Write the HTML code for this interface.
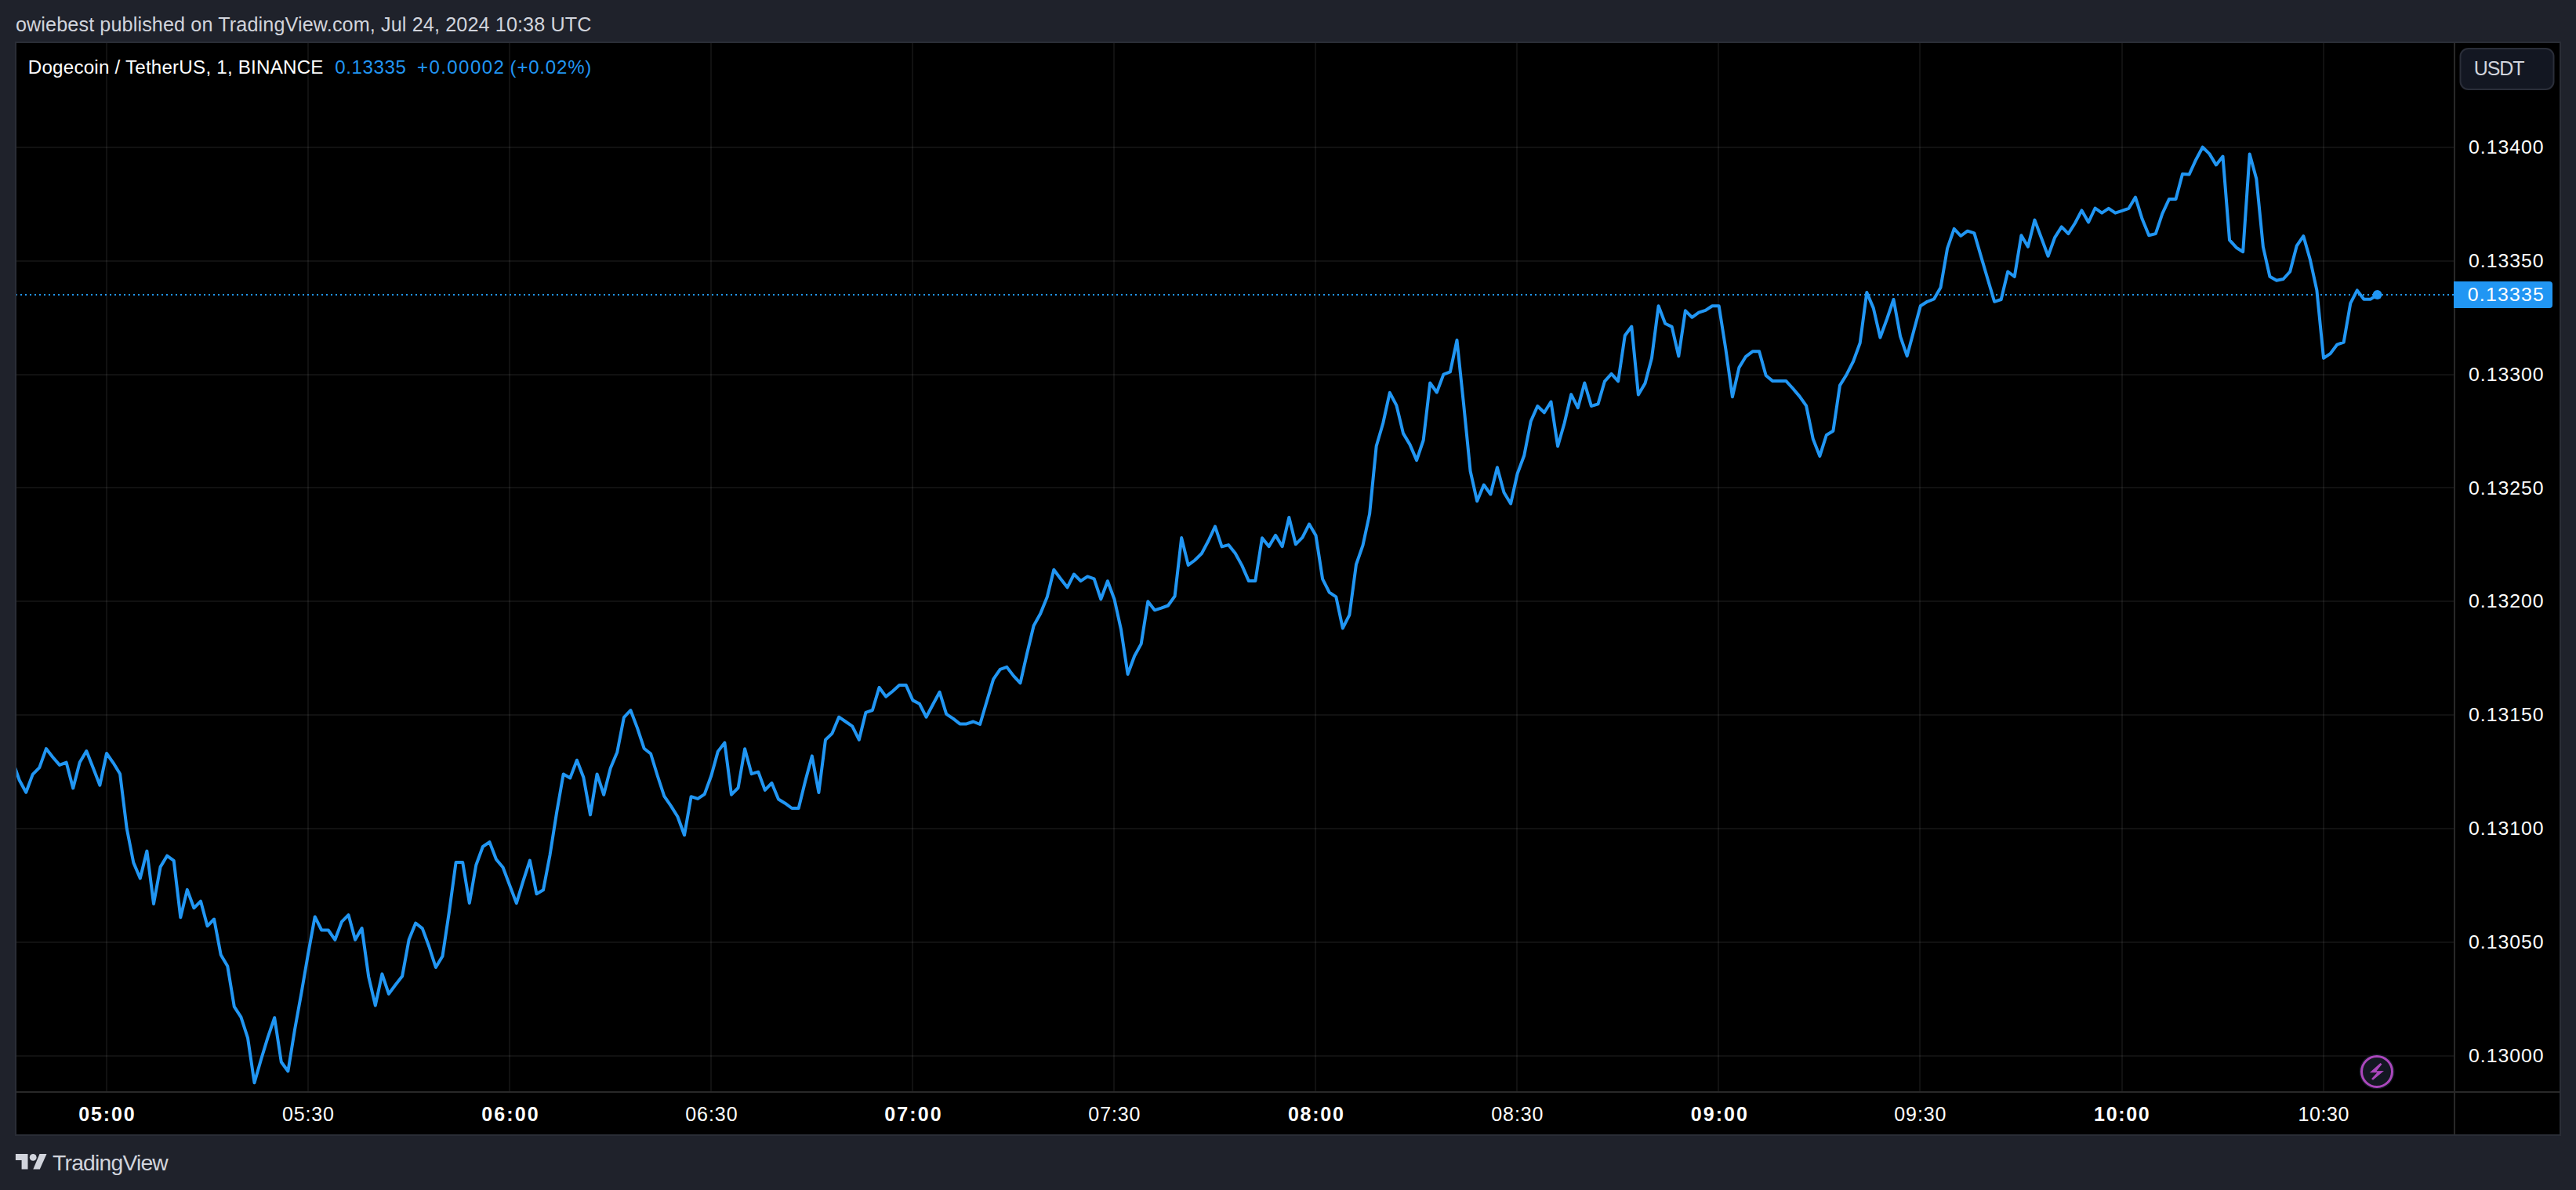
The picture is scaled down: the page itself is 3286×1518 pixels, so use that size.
<!DOCTYPE html>
<html><head><meta charset="utf-8"><title>DOGEUSDT chart</title>
<style>
html,body{margin:0;padding:0;background:#1f222b;width:3286px;height:1518px;overflow:hidden;}
svg text{font-family:"Liberation Sans", "DejaVu Sans", sans-serif;}
</style></head><body>
<svg width="3286" height="1518" viewBox="0 0 3286 1518" style="position:absolute;left:0;top:0"><rect x="19" y="53" width="3248" height="1396" fill="#2a2d36"/><rect x="21" y="55" width="3244" height="1392" fill="#000"/><defs><clipPath id="pane"><rect x="21" y="55" width="3110" height="1338"/></clipPath></defs><g clip-path="url(#pane)"><rect x="135" y="55" width="2" height="1338" fill="#fff" fill-opacity="0.065"/><rect x="392" y="55" width="2" height="1338" fill="#fff" fill-opacity="0.065"/><rect x="649" y="55" width="2" height="1338" fill="#fff" fill-opacity="0.065"/><rect x="906" y="55" width="2" height="1338" fill="#fff" fill-opacity="0.065"/><rect x="1163" y="55" width="2" height="1338" fill="#fff" fill-opacity="0.065"/><rect x="1420" y="55" width="2" height="1338" fill="#fff" fill-opacity="0.065"/><rect x="1677" y="55" width="2" height="1338" fill="#fff" fill-opacity="0.065"/><rect x="1934" y="55" width="2" height="1338" fill="#fff" fill-opacity="0.065"/><rect x="2191" y="55" width="2" height="1338" fill="#fff" fill-opacity="0.065"/><rect x="2448" y="55" width="2" height="1338" fill="#fff" fill-opacity="0.065"/><rect x="2706" y="55" width="2" height="1338" fill="#fff" fill-opacity="0.065"/><rect x="2963" y="55" width="2" height="1338" fill="#fff" fill-opacity="0.065"/><rect x="21" y="187" width="3110" height="2" fill="#fff" fill-opacity="0.065"/><rect x="21" y="332" width="3110" height="2" fill="#fff" fill-opacity="0.065"/><rect x="21" y="477" width="3110" height="2" fill="#fff" fill-opacity="0.065"/><rect x="21" y="621" width="3110" height="2" fill="#fff" fill-opacity="0.065"/><rect x="21" y="766" width="3110" height="2" fill="#fff" fill-opacity="0.065"/><rect x="21" y="911" width="3110" height="2" fill="#fff" fill-opacity="0.065"/><rect x="21" y="1056" width="3110" height="2" fill="#fff" fill-opacity="0.065"/><rect x="21" y="1201" width="3110" height="2" fill="#fff" fill-opacity="0.065"/><rect x="21" y="1346" width="3110" height="2" fill="#fff" fill-opacity="0.065"/></g><rect x="3130" y="55" width="2" height="1392" fill="#282828"/><rect x="21" y="1392" width="3244" height="2" fill="#282828"/><g clip-path="url(#pane)"><line x1="20" y1="376" x2="3131" y2="376" stroke="#2196f3" stroke-width="2" stroke-dasharray="2 4"/></g><g clip-path="url(#pane)"><path d="M16.0,970.0 L24.6,995.0 L33.2,1010.8 L41.7,987.9 L50.3,979.2 L58.9,955.1 L67.4,966.0 L76.0,975.9 L84.6,972.6 L93.2,1005.4 L101.7,972.6 L110.3,958.0 L118.9,979.8 L127.4,1001.7 L136.0,961.0 L144.6,973.3 L153.1,987.2 L161.7,1056.7 L170.3,1100.4 L178.8,1120.5 L187.4,1085.6 L196.0,1152.9 L204.6,1105.9 L213.1,1091.7 L221.7,1097.8 L230.3,1170.3 L238.8,1134.9 L247.4,1158.3 L256.0,1149.6 L264.5,1181.3 L273.1,1172.5 L281.7,1217.9 L290.3,1232.6 L298.8,1284.1 L307.4,1297.4 L316.0,1323.8 L324.5,1381.2 L333.1,1351.2 L341.7,1323.2 L350.2,1298.2 L358.8,1354.7 L367.4,1366.5 L376.0,1313.5 L384.5,1266.5 L393.1,1216.5 L401.7,1169.4 L410.2,1186.5 L418.8,1186.5 L427.4,1198.8 L435.9,1175.9 L444.5,1167.1 L453.1,1198.8 L461.6,1184.1 L470.2,1245.9 L478.8,1282.6 L487.4,1242.4 L495.9,1267.9 L504.5,1256.2 L513.1,1245.3 L521.6,1198.8 L530.2,1177.5 L538.8,1184.4 L547.3,1207.5 L555.9,1234.0 L564.5,1219.7 L573.1,1162.4 L581.6,1100.0 L590.2,1100.0 L598.8,1152.0 L607.3,1103.5 L615.9,1080.0 L624.5,1074.1 L633.0,1096.2 L641.6,1106.5 L650.2,1129.4 L658.8,1152.1 L667.3,1124.1 L675.9,1097.6 L684.5,1140.3 L693.0,1135.3 L701.6,1090.3 L710.2,1035.9 L718.7,987.4 L727.3,992.4 L735.9,969.7 L744.4,991.8 L753.0,1039.4 L761.6,987.4 L770.2,1013.8 L778.7,980.0 L787.3,959.4 L795.9,915.1 L804.4,906.0 L813.0,928.6 L821.6,954.7 L830.1,961.5 L838.7,989.5 L847.3,1015.6 L855.9,1028.1 L864.4,1041.7 L873.0,1065.3 L881.6,1016.2 L890.1,1018.9 L898.7,1013.1 L907.3,989.5 L915.8,958.6 L924.4,947.4 L933.0,1013.7 L941.6,1005.0 L950.1,955.3 L958.7,987.2 L967.3,984.7 L975.8,1007.9 L984.4,998.8 L993.0,1019.5 L1001.5,1024.7 L1010.1,1031.0 L1018.7,1031.0 L1027.2,996.6 L1035.8,964.4 L1044.4,1011.0 L1053.0,943.7 L1061.5,935.6 L1070.1,914.7 L1078.7,920.5 L1087.2,926.3 L1095.8,943.7 L1104.4,908.9 L1112.9,906.0 L1121.5,877.0 L1130.1,888.6 L1138.7,881.8 L1147.2,874.1 L1155.8,874.1 L1164.4,893.4 L1172.9,897.7 L1181.5,914.7 L1190.1,898.5 L1198.6,882.8 L1207.2,910.8 L1215.8,916.6 L1224.4,923.4 L1232.9,923.4 L1241.5,920.5 L1250.1,924.0 L1258.6,895.2 L1267.2,866.4 L1275.8,853.8 L1284.3,850.9 L1292.9,862.1 L1301.5,871.4 L1310.0,834.0 L1318.6,798.2 L1327.2,782.7 L1335.8,761.5 L1344.3,726.7 L1352.9,738.3 L1361.5,749.3 L1370.0,732.5 L1378.6,741.2 L1387.2,735.4 L1395.7,738.3 L1404.3,764.4 L1412.9,741.2 L1421.5,764.4 L1430.0,803.0 L1438.6,860.0 L1447.2,836.8 L1455.7,821.4 L1464.3,767.3 L1472.9,778.3 L1481.4,775.6 L1490.0,772.5 L1498.6,760.5 L1507.2,686.1 L1515.7,720.9 L1524.3,714.5 L1532.9,706.0 L1541.4,690.0 L1550.0,671.6 L1558.6,697.4 L1567.1,695.1 L1575.7,705.7 L1584.3,721.4 L1592.8,740.9 L1601.4,740.9 L1610.0,686.3 L1618.6,697.1 L1627.1,682.9 L1635.7,697.1 L1644.3,660.0 L1652.8,694.3 L1661.4,685.7 L1670.0,668.6 L1678.5,682.9 L1687.1,738.6 L1695.7,755.7 L1704.3,761.4 L1712.8,801.4 L1721.4,784.3 L1730.0,720.0 L1738.5,695.7 L1747.1,655.7 L1755.7,569.0 L1764.2,540.0 L1772.8,500.9 L1781.4,517.1 L1790.0,552.9 L1798.5,567.1 L1807.1,587.1 L1815.7,561.5 L1824.2,488.5 L1832.8,500.5 L1841.4,477.6 L1849.9,474.3 L1858.5,433.9 L1867.1,515.8 L1875.6,601.0 L1884.2,639.2 L1892.8,618.5 L1901.4,630.5 L1909.9,596.2 L1918.5,628.3 L1927.1,642.5 L1935.6,604.3 L1944.2,581.3 L1952.8,537.2 L1961.3,518.0 L1969.9,526.3 L1978.5,512.5 L1987.1,569.3 L1995.6,539.8 L2004.2,503.1 L2012.8,520.2 L2021.3,488.5 L2029.9,518.0 L2038.5,515.4 L2047.0,486.3 L2055.6,476.9 L2064.2,486.3 L2072.8,428.0 L2081.3,416.5 L2089.9,503.6 L2098.5,489.1 L2107.0,456.8 L2115.6,390.3 L2124.2,412.8 L2132.7,416.9 L2141.3,454.4 L2149.9,396.3 L2158.4,404.8 L2167.0,398.7 L2175.6,395.9 L2184.2,390.3 L2192.7,390.3 L2201.3,444.7 L2209.9,506.2 L2218.4,468.9 L2227.0,454.8 L2235.6,448.3 L2244.1,448.3 L2252.7,479.0 L2261.3,486.1 L2269.9,486.1 L2278.4,486.1 L2287.0,495.5 L2295.6,505.6 L2304.1,517.7 L2312.7,559.7 L2321.3,581.9 L2329.8,555.0 L2338.4,549.8 L2347.0,491.6 L2355.6,477.7 L2364.1,461.0 L2372.7,437.5 L2381.3,373.1 L2389.8,393.1 L2398.4,430.5 L2407.0,407.0 L2415.5,382.0 L2424.1,429.2 L2432.7,454.1 L2441.2,422.2 L2449.8,390.3 L2458.4,384.8 L2467.0,381.5 L2475.5,366.8 L2484.1,316.9 L2492.7,291.9 L2501.2,301.0 L2509.8,294.7 L2518.4,297.4 L2526.9,326.6 L2535.5,355.7 L2544.1,384.8 L2552.7,382.0 L2561.2,346.5 L2569.8,352.9 L2578.4,300.2 L2586.9,314.8 L2595.5,280.6 L2604.1,303.7 L2612.6,326.7 L2621.2,302.8 L2629.8,289.4 L2638.4,298.1 L2646.9,284.7 L2655.5,268.4 L2664.1,283.5 L2672.6,265.5 L2681.2,271.7 L2689.8,265.8 L2698.3,271.7 L2706.9,268.9 L2715.5,265.8 L2724.0,251.6 L2732.6,279.3 L2741.2,300.3 L2749.8,298.1 L2758.3,272.6 L2766.9,254.1 L2775.5,254.1 L2784.0,222.1 L2792.6,222.5 L2801.2,203.7 L2809.7,187.7 L2818.3,196.1 L2826.9,210.4 L2835.5,199.5 L2844.0,306.1 L2852.6,315.7 L2861.2,321.2 L2869.7,196.5 L2878.3,228.0 L2886.9,314.9 L2895.4,352.8 L2904.0,357.8 L2912.6,356.0 L2921.2,346.5 L2929.7,313.7 L2938.3,301.1 L2946.9,331.3 L2955.4,370.4 L2964.0,456.9 L2972.6,451.1 L2981.1,439.7 L2989.7,436.7 L2998.3,386.8 L3006.8,370.4 L3015.4,381.7 L3024.0,381.7 L3032.6,376.0" fill="none" stroke="#2196f3" stroke-width="4" stroke-linejoin="round" stroke-linecap="round"/></g><circle cx="3032.6" cy="376.0" r="5.9" fill="#2196f3"/><path d="M3130,359 H3252 a4,4 0 0 1 4,4 V389 a4,4 0 0 1 -4,4 H3130 Z" fill="#2196f3"/><rect x="3138.5" y="62" width="119" height="52" rx="10" fill="#131722" stroke="#2a2e39" stroke-width="2"/><circle cx="3032" cy="1367" r="22.5" fill="#131722"/><circle cx="3032" cy="1367" r="19.5" fill="none" stroke="#ab47bc" stroke-width="3"/><path d="M3036.5,1356 L3038.5,1357.5 L3031.5,1366.2 L3041,1366 L3027,1377.7 L3025,1376.3 L3032.3,1368.3 L3022.8,1368.3 Z" fill="#ab47bc"/><g fill="#d1d4dc"><path d="M19.9,1472 H35.5 V1491.6 H27.6 V1480 H19.9 Z"/><circle cx="42.2" cy="1476.4" r="4.4"/><path d="M50.5,1472 H59.5 L50.8,1491.6 H42.3 Z"/></g>
<text x="19.90" y="40.20" font-size="25.2" fill="#d1d4dc" font-weight="normal" textLength="734.60" lengthAdjust="spacing">owiebest published on TradingView.com, Jul 24, 2024 10:38 UTC</text><text x="35.80" y="93.70" font-size="24.2" fill="#ffffff" font-weight="normal" textLength="376.70" lengthAdjust="spacing">Dogecoin / TetherUS, 1, BINANCE</text><text x="427.30" y="93.60" font-size="24" fill="#2196f3" font-weight="normal" textLength="90.50" lengthAdjust="spacing">0.13335</text><text x="532.00" y="93.60" font-size="24" fill="#2196f3" font-weight="normal" textLength="110.80" lengthAdjust="spacing">+0.00002</text><text x="650.60" y="93.60" font-size="24" fill="#2196f3" font-weight="normal" textLength="103.70" lengthAdjust="spacing">(+0.02%)</text><text x="3155.80" y="96.30" font-size="25" fill="#d1d4dc" font-weight="normal" textLength="64.70" lengthAdjust="spacing">USDT</text><text x="3149.10" y="196.10" font-size="24.8" fill="#ffffff" font-weight="normal" textLength="95.50" lengthAdjust="spacing">0.13400</text><text x="3149.10" y="340.94" font-size="24.8" fill="#ffffff" font-weight="normal" textLength="95.50" lengthAdjust="spacing">0.13350</text><text x="3149.10" y="485.78" font-size="24.8" fill="#ffffff" font-weight="normal" textLength="95.50" lengthAdjust="spacing">0.13300</text><text x="3149.10" y="630.62" font-size="24.8" fill="#ffffff" font-weight="normal" textLength="95.50" lengthAdjust="spacing">0.13250</text><text x="3149.10" y="775.46" font-size="24.8" fill="#ffffff" font-weight="normal" textLength="95.50" lengthAdjust="spacing">0.13200</text><text x="3149.10" y="920.30" font-size="24.8" fill="#ffffff" font-weight="normal" textLength="95.50" lengthAdjust="spacing">0.13150</text><text x="3149.10" y="1065.14" font-size="24.8" fill="#ffffff" font-weight="normal" textLength="95.50" lengthAdjust="spacing">0.13100</text><text x="3149.10" y="1209.98" font-size="24.8" fill="#ffffff" font-weight="normal" textLength="95.50" lengthAdjust="spacing">0.13050</text><text x="3149.10" y="1354.82" font-size="24.8" fill="#ffffff" font-weight="normal" textLength="95.50" lengthAdjust="spacing">0.13000</text><text x="3147.80" y="384.00" font-size="24.8" fill="#ffffff" font-weight="normal" textLength="97.10" lengthAdjust="spacing">0.13335</text><text x="100.35" y="1430.30" font-size="25" fill="#ffffff" font-weight="bold" textLength="71.20" lengthAdjust="spacing">05:00</text><text x="360.09" y="1430.30" font-size="25" fill="#ffffff" font-weight="normal" textLength="65.70" lengthAdjust="spacing">05:30</text><text x="614.18" y="1430.30" font-size="25" fill="#ffffff" font-weight="bold" textLength="72.50" lengthAdjust="spacing">06:00</text><text x="874.27" y="1430.30" font-size="25" fill="#ffffff" font-weight="normal" textLength="66.30" lengthAdjust="spacing">06:30</text><text x="1128.21" y="1430.30" font-size="25" fill="#ffffff" font-weight="bold" textLength="72.40" lengthAdjust="spacing">07:00</text><text x="1388.35" y="1430.30" font-size="25" fill="#ffffff" font-weight="normal" textLength="66.10" lengthAdjust="spacing">07:30</text><text x="1642.89" y="1430.30" font-size="25" fill="#ffffff" font-weight="bold" textLength="71.00" lengthAdjust="spacing">08:00</text><text x="1902.33" y="1430.30" font-size="25" fill="#ffffff" font-weight="normal" textLength="66.10" lengthAdjust="spacing">08:30</text><text x="2156.87" y="1430.30" font-size="25" fill="#ffffff" font-weight="bold" textLength="72.00" lengthAdjust="spacing">09:00</text><text x="2416.31" y="1430.30" font-size="25" fill="#ffffff" font-weight="normal" textLength="66.10" lengthAdjust="spacing">09:30</text><text x="2671.10" y="1430.30" font-size="25" fill="#ffffff" font-weight="bold" textLength="70.50" lengthAdjust="spacing">10:00</text><text x="2931.60" y="1430.30" font-size="25" fill="#ffffff" font-weight="normal" textLength="64.90" lengthAdjust="spacing">10:30</text><text x="67.10" y="1493.10" font-size="28.3" fill="#d1d4dc" font-weight="normal" textLength="147.70" lengthAdjust="spacing">TradingView</text>
</svg>
</body></html>
